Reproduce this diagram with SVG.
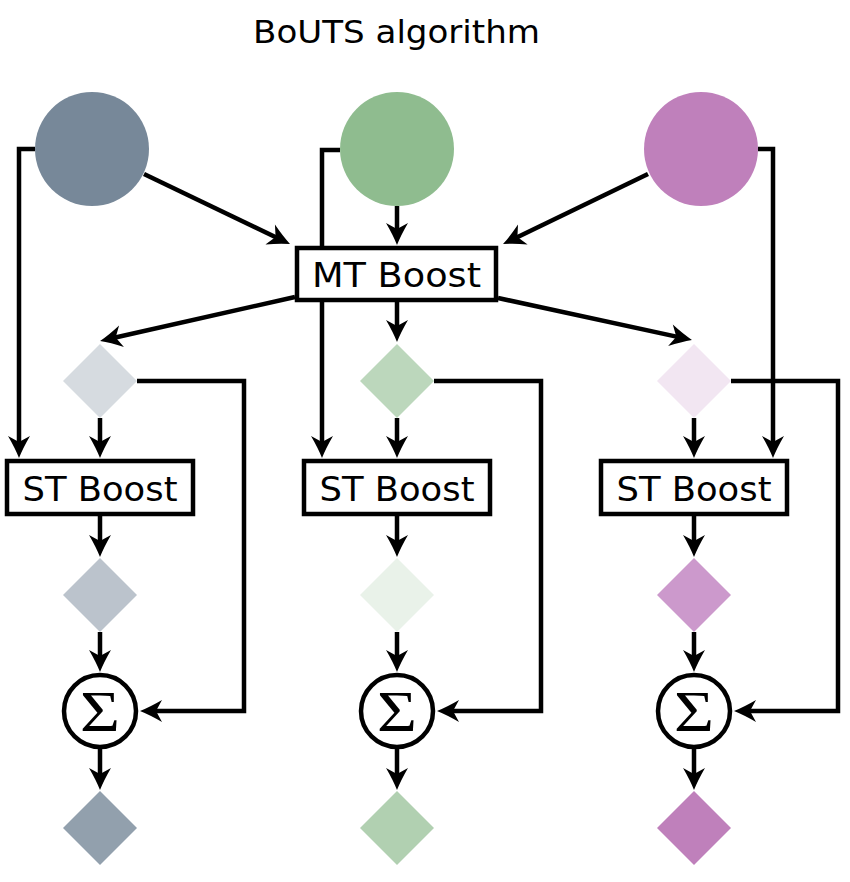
<svg xmlns="http://www.w3.org/2000/svg" width="850" height="882" viewBox="0 0 850 882">
<defs>
<marker id="ah" markerUnits="userSpaceOnUse" viewBox="-14 -13 26 26" markerWidth="26" markerHeight="26" refX="0" refY="0" orient="auto">
<path d="M10,0 Q0,-4 -12,-11 L-6,0 L-12,11 Q0,4 10,0 Z" fill="#000"/>
</marker>
</defs>
<style>
.c{fill:none;stroke:#000;stroke-width:4.5;marker-end:url(#ah)}
.box{fill:#fff;stroke:#000;stroke-width:4.5}
.lbl{font-family:"DejaVu Sans",sans-serif;font-size:34px;text-anchor:middle;fill:#000}
.sig{font-family:"Liberation Serif","DejaVu Serif",serif;font-size:57px;text-anchor:middle;fill:#000}
</style>
<rect width="850" height="882" fill="#fff"/>
<text x="396.5" y="43" font-family="DejaVu Sans, sans-serif" font-size="32" text-anchor="middle" textLength="287" lengthAdjust="spacingAndGlyphs">BoUTS algorithm</text>
<g id="connectors">
<line class="c" x1="144" y1="174" x2="281" y2="239.7"/>
<line class="c" x1="397" y1="206" x2="397" y2="235"/>
<line class="c" x1="648" y1="174" x2="512" y2="239.7"/>
<path class="c" d="M35,149 H19 V448"/>
<path class="c" d="M340,150 H322 V448"/>
<path class="c" d="M758,149 H773 V448"/>
<line class="c" x1="295" y1="297" x2="109.8" y2="338.8"/>
<line class="c" x1="397" y1="302" x2="397" y2="332"/>
<line class="c" x1="498" y1="298" x2="682.2" y2="337.9"/>
<line class="c" x1="100" y1="418" x2="100" y2="448"/>
<line class="c" x1="397" y1="418" x2="397" y2="448"/>
<line class="c" x1="694" y1="418" x2="694" y2="448"/>
<line class="c" x1="100" y1="516" x2="100" y2="547"/>
<line class="c" x1="397" y1="516" x2="397" y2="547"/>
<line class="c" x1="694" y1="516" x2="694" y2="547"/>
<line class="c" x1="100" y1="632" x2="100" y2="662"/>
<line class="c" x1="397" y1="632" x2="397" y2="662"/>
<line class="c" x1="694" y1="632" x2="694" y2="662"/>
<line class="c" x1="100" y1="749" x2="100" y2="780"/>
<line class="c" x1="397" y1="749" x2="397" y2="780"/>
<line class="c" x1="694" y1="749" x2="694" y2="780"/>
<path class="c" d="M137,381 H244 V711 H150"/>
<path class="c" d="M434,381 H541 V711 H447"/>
<path class="c" d="M731,381 H838 V711 H744"/>
</g>
<g id="task1"><circle cx="92" cy="149" r="57" fill="#778899"/></g>
<g id="task2"><circle cx="397" cy="149" r="57" fill="#8fbc8f"/></g>
<g id="task3"><circle cx="701" cy="149" r="57" fill="#bf80bb"/></g>
<g id="mtboost"><rect class="box" x="297" y="248" width="199" height="52"/><text class="lbl" x="396.5" y="287" textLength="169" lengthAdjust="spacingAndGlyphs">MT Boost</text></g>
<g id="d1a"><polygon points="100,344 137,381 100,418 63,381" fill="#d6dbe0"/></g>
<g id="d2a"><polygon points="397,344 434,381 397,418 360,381" fill="#bcd7bc"/></g>
<g id="d3a"><polygon points="694,344 731,381 694,418 657,381" fill="#f2e6f2"/></g>
<g id="st1"><rect class="box" x="7" y="461" width="186" height="53"/><text class="lbl" x="100" y="501" textLength="155" lengthAdjust="spacingAndGlyphs">ST Boost</text></g>
<g id="st2"><rect class="box" x="304" y="461" width="186" height="53"/><text class="lbl" x="397" y="501" textLength="155" lengthAdjust="spacingAndGlyphs">ST Boost</text></g>
<g id="st3"><rect class="box" x="601" y="461" width="186" height="53"/><text class="lbl" x="694" y="501" textLength="155" lengthAdjust="spacingAndGlyphs">ST Boost</text></g>
<g id="d1b"><polygon points="100,558 137,595 100,632 63,595" fill="#bbc3cc"/></g>
<g id="d2b"><polygon points="397,558 434,595 397,632 360,595" fill="#e9f2e9"/></g>
<g id="d3b"><polygon points="694,558 731,595 694,632 657,595" fill="#cc99cc"/></g>
<g id="sum1"><circle class="box" cx="100" cy="711" r="36"/><text class="sig" x="100" y="731" textLength="40" lengthAdjust="spacingAndGlyphs">Σ</text></g>
<g id="sum2"><circle class="box" cx="397" cy="711" r="36"/><text class="sig" x="397" y="731" textLength="40" lengthAdjust="spacingAndGlyphs">Σ</text></g>
<g id="sum3"><circle class="box" cx="694" cy="711" r="36"/><text class="sig" x="694" y="731" textLength="40" lengthAdjust="spacingAndGlyphs">Σ</text></g>
<g id="d1c"><polygon points="100,791 137,828 100,865 63,828" fill="#92a0ad"/></g>
<g id="d2c"><polygon points="397,791 434,828 397,865 360,828" fill="#b1d0b1"/></g>
<g id="d3c"><polygon points="694,791 731,828 694,865 657,828" fill="#bf80bb"/></g>
</svg>
